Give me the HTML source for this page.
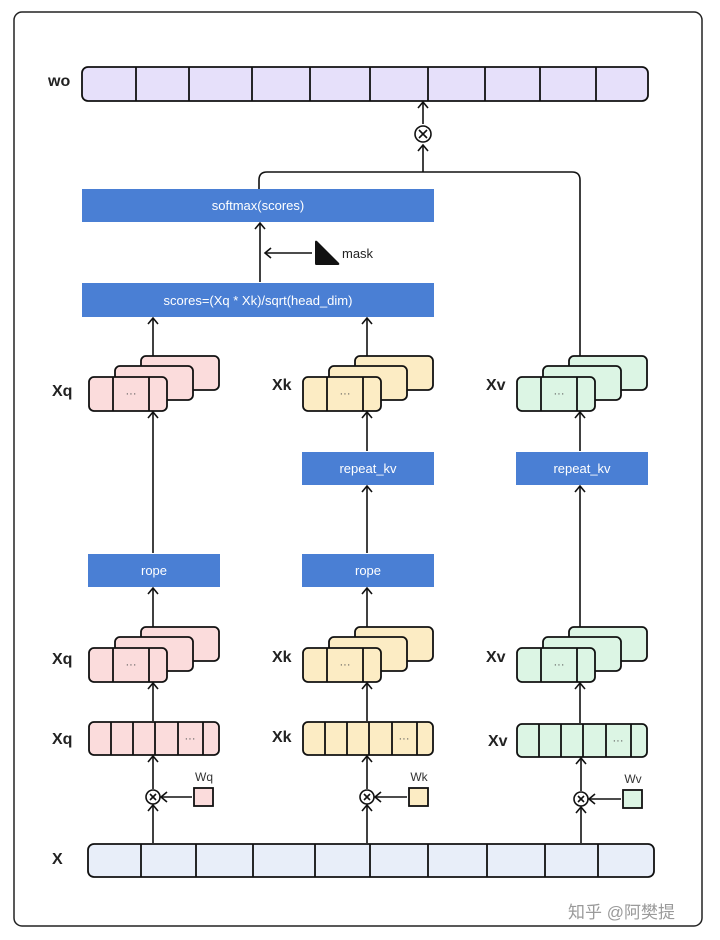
<!DOCTYPE html><html><head><meta charset="utf-8"><style>body{margin:0;background:#fff}svg{display:block}text{font-family:"Liberation Sans","Noto Sans CJK SC",sans-serif}</style></head><body>
<svg width="720" height="940" viewBox="0 0 720 940" xmlns="http://www.w3.org/2000/svg">
<defs><marker id="a" markerWidth="12" markerHeight="12" refX="10" refY="6" orient="auto" markerUnits="userSpaceOnUse"><path d="M4,1 L10,6 L4,11" fill="none" stroke="#111" stroke-width="1.6"/></marker></defs>
<rect x="14" y="12" width="688" height="914" rx="8" fill="#fff" stroke="#222" stroke-width="1.5"/>
<g stroke="#111" stroke-width="1.8">
<rect x="82" y="67" width="566" height="34" rx="6" fill="#e6e0fa"/>
<path d="M136 67v34M189 67v34M252 67v34M310 67v34M370 67v34M428 67v34M485 67v34M540 67v34M596 67v34"/>
<rect x="88" y="844" width="566" height="33" rx="6" fill="#e8eef9"/>
<path d="M141 844v33M196 844v33M253 844v33M315 844v33M370 844v33M428 844v33M487 844v33M545 844v33M598 844v33"/>
</g>
<g font-weight="bold" font-size="16" fill="#222">
<text x="48" y="86">wo</text><text x="52" y="864">X</text>
<text x="52" y="396">Xq</text><text x="272" y="390">Xk</text><text x="486" y="390">Xv</text>
<text x="52" y="664">Xq</text><text x="272" y="662">Xk</text><text x="486" y="662">Xv</text>
<text x="52" y="744">Xq</text><text x="272" y="742">Xk</text><text x="488" y="746">Xv</text>
</g>
<g fill="#4a7fd4"><rect x="82" y="189" width="352" height="33"/><rect x="82" y="283" width="352" height="34"/>
<rect x="302" y="452" width="132" height="33"/><rect x="516" y="452" width="132" height="33"/>
<rect x="88" y="554" width="132" height="33"/><rect x="302" y="554" width="132" height="33"/></g>
<g fill="#fff" font-size="13" text-anchor="middle">
<text x="258" y="210">softmax(scores)</text><text x="258" y="305">scores=(Xq * Xk)/sqrt(head_dim)</text>
<text x="368" y="473">repeat_kv</text><text x="582" y="473">repeat_kv</text>
<text x="154" y="575">rope</text><text x="368" y="575">rope</text></g>
<g fill="none" stroke="#111" stroke-width="1.6">
<circle cx="423" cy="134" r="8"/><path d="M419 130l8 8M427 130l-8 8"/>
<line x1="423" y1="124" x2="423" y2="102" marker-end="url(#a)"/>
<line x1="423" y1="172" x2="423" y2="145" marker-end="url(#a)"/>
<path d="M259 189V180Q259 172 267 172H572Q580 172 580 180V356"/>
<line x1="260" y1="282" x2="260" y2="223" marker-end="url(#a)"/>
<line x1="312" y1="253" x2="265" y2="253" marker-end="url(#a)"/>
<line x1="153" y1="356" x2="153" y2="318" marker-end="url(#a)"/>
<line x1="367" y1="356" x2="367" y2="318" marker-end="url(#a)"/>
<line x1="153" y1="553" x2="153" y2="412" marker-end="url(#a)"/>
<line x1="367" y1="451" x2="367" y2="412" marker-end="url(#a)"/>
<line x1="580" y1="451" x2="580" y2="412" marker-end="url(#a)"/>
<line x1="153" y1="627" x2="153" y2="588" marker-end="url(#a)"/>
<line x1="367" y1="627" x2="367" y2="588" marker-end="url(#a)"/>
<line x1="580" y1="627" x2="580" y2="486" marker-end="url(#a)"/>
<line x1="367" y1="553" x2="367" y2="486" marker-end="url(#a)"/>
<line x1="153" y1="721" x2="153" y2="683" marker-end="url(#a)"/>
<line x1="367" y1="721" x2="367" y2="683" marker-end="url(#a)"/>
<line x1="580" y1="723" x2="580" y2="683" marker-end="url(#a)"/>
</g>
<path d="M315 242Q315 240 317 241L339 263Q340 265 338 265L316 265Q315 265 315 263Z" fill="#111"/>
<text x="342" y="258" font-size="13" fill="#222">mask</text>
<g stroke="#111" stroke-width="1.8">
<rect x="141" y="356" width="78" height="34" rx="5" fill="#fbdcdc"/>
<rect x="115" y="366" width="78" height="34" rx="5" fill="#fbdcdc"/>
<rect x="89" y="377" width="78" height="34" rx="5" fill="#fbdcdc"/>
<path d="M113 377v34M149 377v34"/>
<rect x="355" y="356" width="78" height="34" rx="5" fill="#fcecc4"/><rect x="329" y="366" width="78" height="34" rx="5" fill="#fcecc4"/><rect x="303" y="377" width="78" height="34" rx="5" fill="#fcecc4"/><path d="M327 377v34M363 377v34"/>
<rect x="569" y="356" width="78" height="34" rx="5" fill="#dcf5e4"/><rect x="543" y="366" width="78" height="34" rx="5" fill="#dcf5e4"/><rect x="517" y="377" width="78" height="34" rx="5" fill="#dcf5e4"/><path d="M541 377v34M577 377v34"/>
<rect x="141" y="627" width="78" height="34" rx="5" fill="#fbdcdc"/><rect x="115" y="637" width="78" height="34" rx="5" fill="#fbdcdc"/><rect x="89" y="648" width="78" height="34" rx="5" fill="#fbdcdc"/><path d="M113 648v34M149 648v34"/>
<rect x="355" y="627" width="78" height="34" rx="5" fill="#fcecc4"/><rect x="329" y="637" width="78" height="34" rx="5" fill="#fcecc4"/><rect x="303" y="648" width="78" height="34" rx="5" fill="#fcecc4"/><path d="M327 648v34M363 648v34"/>
<rect x="569" y="627" width="78" height="34" rx="5" fill="#dcf5e4"/><rect x="543" y="637" width="78" height="34" rx="5" fill="#dcf5e4"/><rect x="517" y="648" width="78" height="34" rx="5" fill="#dcf5e4"/><path d="M541 648v34M577 648v34"/>
<rect x="89" y="722" width="130" height="33" rx="5" fill="#fbdcdc"/><path d="M111 722v33M133 722v33M155 722v33M178 722v33M203 722v33"/>
<rect x="303" y="722" width="130" height="33" rx="5" fill="#fcecc4"/><path d="M325 722v33M347 722v33M369 722v33M392 722v33M417 722v33"/>
<rect x="517" y="724" width="130" height="33" rx="5" fill="#dcf5e4"/><path d="M539 724v33M561 724v33M583 724v33M606 724v33M631 724v33"/>
<rect x="194" y="788" width="19" height="18" fill="#fbdcdc"/><rect x="409" y="788" width="19" height="18" fill="#fcecc4"/><rect x="623" y="790" width="19" height="18" fill="#dcf5e4"/>
</g>
<g font-size="11" fill="#555" text-anchor="middle">
<text x="131" y="397">···</text><text x="345" y="397">···</text><text x="559" y="397">···</text>
<text x="131" y="668">···</text><text x="345" y="668">···</text><text x="559" y="668">···</text>
<text x="190" y="742">···</text><text x="404" y="742">···</text><text x="618" y="744">···</text></g>
<g font-size="12" fill="#333" text-anchor="middle"><text x="204" y="781">Wq</text><text x="419" y="781">Wk</text><text x="633" y="783">Wv</text></g>
<g fill="none" stroke="#111" stroke-width="1.6">
<circle cx="153" cy="797" r="7"/><path d="M150 794l6 6M156 794l-6 6"/>
<circle cx="367" cy="797" r="7"/><path d="M364 794l6 6M370 794l-6 6"/>
<circle cx="581" cy="799" r="7"/><path d="M578 796l6 6M584 796l-6 6"/>
<line x1="153" y1="789" x2="153" y2="756" marker-end="url(#a)"/>
<line x1="367" y1="789" x2="367" y2="756" marker-end="url(#a)"/>
<line x1="581" y1="791" x2="581" y2="758" marker-end="url(#a)"/>
<line x1="153" y1="843" x2="153" y2="805" marker-end="url(#a)"/>
<line x1="367" y1="843" x2="367" y2="805" marker-end="url(#a)"/>
<line x1="581" y1="843" x2="581" y2="807" marker-end="url(#a)"/>
<line x1="192" y1="797" x2="161" y2="797" marker-end="url(#a)"/>
<line x1="407" y1="797" x2="375" y2="797" marker-end="url(#a)"/>
<line x1="621" y1="799" x2="589" y2="799" marker-end="url(#a)"/>
</g>
<text x="568" y="918" font-size="17" fill="#9a9a9a">知乎 @阿樊提</text>
</svg></body></html>
